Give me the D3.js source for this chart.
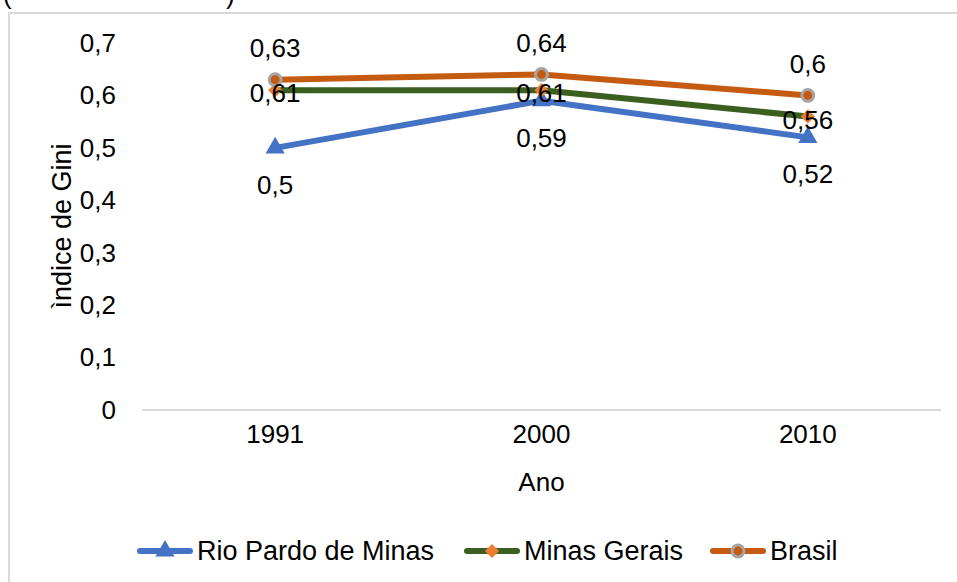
<!DOCTYPE html>
<html>
<head>
<meta charset="utf-8">
<script src="https://cdn.jsdelivr.net/npm/d3@7/dist/d3.min.js"></script>
<style>
  html, body { margin: 0; padding: 0; background: #fff; }
  svg { display: block; font-family: "Liberation Sans", Arial, sans-serif; }
</style>
</head>
<body>
<svg id="chart" width="957" height="582"></svg>
<script>
const years = ["1991", "2000", "2010"];
const rioPardo = [0.50, 0.59, 0.52];
const minasGerais = [0.61, 0.61, 0.56];
const brasil = [0.63, 0.64, 0.60];
const yTicks = [0, 0.1, 0.2, 0.3, 0.4, 0.5, 0.6, 0.7];
const seriesNames = ["Rio Pardo de Minas", "Minas Gerais", "Brasil"];

const svg = d3.select("#chart");
const fmt = v => String(+v.toFixed(2)).replace(".", ",");
const FS = 26;

// clipped title fragments at top
svg.append("text").attr("x", 3).attr("y", 4).attr("font-size", FS).attr("fill", "#000").text("(");
svg.append("text").attr("x", 226).attr("y", 4).attr("font-size", FS).attr("fill", "#000").text(")");

// border
svg.append("rect").attr("x", 9).attr("y", 13).attr("width", 970).attr("height", 600)
  .attr("fill", "#fff").attr("stroke", "#d9d9d9").attr("stroke-width", 2);

const x = d3.scaleBand().domain(years).range([142, 941]);
const y = d3.scaleLinear().domain([0, 0.7]).range([410, 43]);
const cx = d => x(d) + x.bandwidth() / 2;

// baseline
svg.append("line").attr("x1", 142).attr("x2", 941).attr("y1", y(0)).attr("y2", y(0))
  .attr("stroke", "#d9d9d9").attr("stroke-width", 2);

// y axis labels
const yAxis = d3.axisLeft(y).tickValues(yTicks).tickFormat(fmt).tickSize(0).tickPadding(0);
const gy = svg.append("g").attr("transform", "translate(116,0)").call(yAxis);
gy.select(".domain").remove();
gy.selectAll("text").attr("font-size", FS).attr("fill", "#000").attr("font-family", "Liberation Sans, Arial, sans-serif");

// x axis labels
const xAxis = d3.axisBottom(x).tickSize(0).tickPadding(0);
const gx = svg.append("g").attr("transform", "translate(0,425)").call(xAxis);
gx.select(".domain").remove();
gx.selectAll("text").attr("font-size", FS).attr("fill", "#000").attr("font-family", "Liberation Sans, Arial, sans-serif");

// axis titles
svg.append("text").attr("x", cx("2000")).attr("y", 491).attr("text-anchor", "middle")
  .attr("font-size", FS).attr("fill", "#000").text("Ano");
svg.append("text").attr("transform", "translate(71,226) rotate(-90)").attr("text-anchor", "middle")
  .attr("font-size", 27).attr("fill", "#000").text("ìndice de Gini");

const line = d3.line().x((d, i) => cx(years[i])).y(d => y(d));
const colors = { rio: "#4472C4", mg: "#3A5F1F", br: "#C55A11" };

// lines
svg.append("path").datum(rioPardo).attr("d", line).attr("fill", "none").attr("stroke", colors.rio).attr("stroke-width", 6).attr("stroke-linejoin", "round");
svg.append("path").datum(minasGerais).attr("d", line).attr("fill", "none").attr("stroke", colors.mg).attr("stroke-width", 6).attr("stroke-linejoin", "round");
svg.append("path").datum(brasil).attr("d", line).attr("fill", "none").attr("stroke", colors.br).attr("stroke-width", 6).attr("stroke-linejoin", "round");

const tri = d3.symbol().type(d3.symbolTriangle).size(160);
const dia = d3.symbol().type(d3.symbolSquare).size(100);
const circ = d3.symbol().type(d3.symbolCircle).size(110);

function markers(data, sym, fill, stroke, sw, rot) {
  svg.append("g").selectAll("path").data(data).join("path")
    .attr("d", sym)
    .attr("transform", (d, i) => `translate(${cx(years[i])},${y(d)}) rotate(${rot})`)
    .attr("fill", fill).attr("stroke", stroke).attr("stroke-width", sw);
}
markers(rioPardo, tri, colors.rio, "none", 0, 0);
markers(minasGerais, dia, "#ED7D31", "none", 0, 45);
markers(brasil, circ, colors.br, "#A5A5A5", 3, 0);

// data labels
function labels(data, dy) {
  svg.append("g").selectAll("text").data(data).join("text")
    .attr("x", (d, i) => cx(years[i]))
    .attr("y", d => y(d) + dy)
    .attr("dy", "0.35em")
    .attr("text-anchor", "middle").attr("font-size", FS).attr("fill", "#000")
    .text(fmt);
}
labels(rioPardo, 37);
labels(minasGerais, 3);
labels(brasil, -32);

// legend
const legend = [
  { name: seriesNames[0], color: colors.rio, sym: tri, mfill: colors.rio, mstroke: "none", msw: 0, rot: 0, x0: 140 },
  { name: seriesNames[1], color: colors.mg, sym: dia, mfill: "#ED7D31", mstroke: "none", msw: 0, rot: 45, x0: 467 },
  { name: seriesNames[2], color: colors.br, sym: circ, mfill: colors.br, mstroke: "#A5A5A5", msw: 3, rot: 0, x0: 713 }
];
const ly = 551;
legend.forEach(l => {
  svg.append("line").attr("x1", l.x0).attr("x2", l.x0 + 50).attr("y1", ly).attr("y2", ly)
    .attr("stroke", l.color).attr("stroke-width", 6).attr("stroke-linecap", "round");
  svg.append("path").attr("d", l.sym).attr("transform", `translate(${l.x0 + 25},${ly}) rotate(${l.rot})`)
    .attr("fill", l.mfill).attr("stroke", l.mstroke).attr("stroke-width", l.msw);
  svg.append("text").attr("x", l.x0 + 57).attr("y", ly).attr("dy", "0.35em")
    .attr("font-size", 27).attr("fill", "#000").text(l.name);
});
</script>
</body>
</html>
